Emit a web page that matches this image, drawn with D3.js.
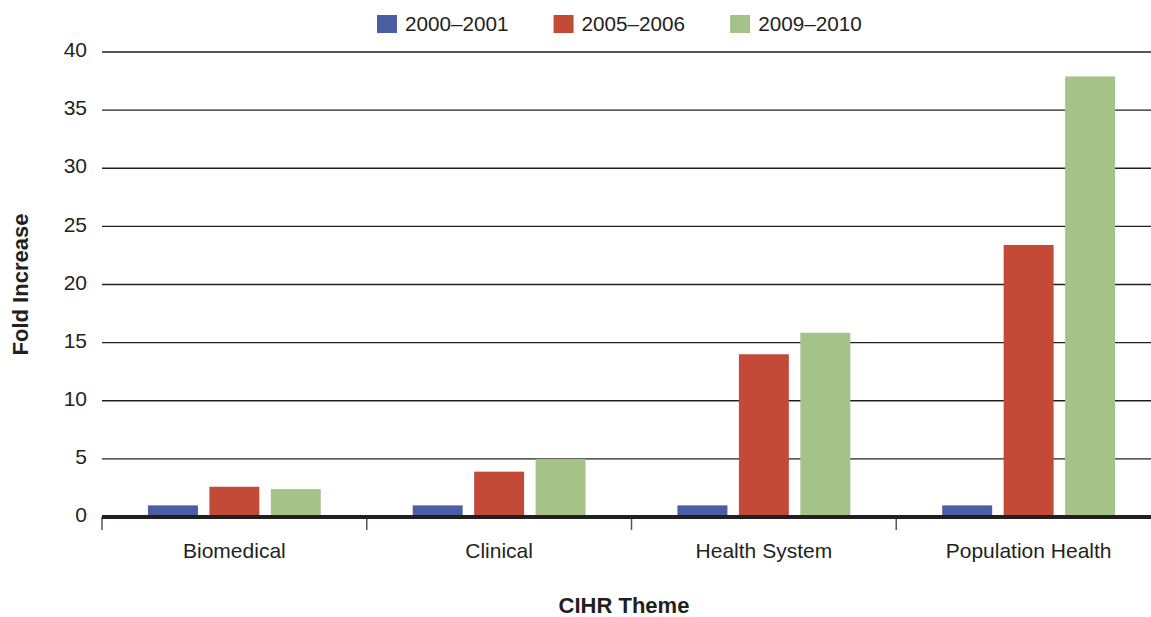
<!DOCTYPE html>
<html>
<head>
<meta charset="utf-8">
<script src="https://cdn.jsdelivr.net/npm/d3@7"></script>
<style>
  html, body { margin: 0; padding: 0; background: #fff; overflow: hidden; }
  svg { display: block; font-family: "Liberation Sans", Arial, Helvetica, sans-serif; }
</style>
</head>
<body>
<svg id="chart" width="1151" height="617"></svg>
<script>
// Fold increase in funding by CIHR theme, relative to 2000–2001
const themes = ["Biomedical", "Clinical", "Health System", "Population Health"];
const periods = ["2000–2001", "2005–2006", "2009–2010"];
const colors = ["#4b5ea3", "#c24a36", "#a5c389"];
const values2000 = [1, 1, 1, 1];
const values2005 = [2.6, 3.9, 14.0, 23.4];
const values2009 = [2.4, 5.0, 15.85, 37.9];
const yTicks = [0, 5, 10, 15, 20, 25, 30, 35, 40];

const seriesValues = [values2000, values2005, values2009];
const rows = themes.map((t, i) => ({
  theme: t,
  vals: periods.map((p, j) => ({ period: p, value: seriesValues[j][i], color: colors[j] }))
}));

const svg = d3.select("#chart");
const textColor = "#231f20";
const plotLeft = 102, plotRight = 1161, plotTop = 52, plotBottom = 517;

const x = d3.scaleBand().domain(themes).range([plotLeft, plotRight]).paddingInner(0).paddingOuter(0);
const xs = d3.scaleBand().domain(periods).range([0, x.bandwidth()]).paddingInner(0.187).paddingOuter(0.748);
const y = d3.scaleLinear().domain([0, 40]).range([plotBottom, plotTop]);

// Horizontal gridlines and y tick labels
const yAxis = d3.axisLeft(y).tickValues(yTicks).tickSize(0).tickPadding(15);
const yg = svg.append("g").attr("transform", `translate(${plotLeft},0)`).call(yAxis);
yg.select(".domain").remove();
yg.selectAll("text")
  .attr("font-size", 21)
  .attr("fill", textColor)
  .attr("dy", "0.22em")
  .attr("font-family", "Liberation Sans, Arial, sans-serif");

svg.append("g").selectAll("line")
  .data(yTicks.filter(d => d > 0))
  .join("line")
  .attr("x1", plotLeft).attr("x2", 1151)
  .attr("y1", d => y(d)).attr("y2", d => y(d))
  .attr("stroke", textColor).attr("stroke-width", 1.3);

// Bars
const groups = svg.append("g").selectAll("g")
  .data(rows).join("g")
  .attr("transform", d => `translate(${x(d.theme)},0)`);
groups.selectAll("rect")
  .data(d => d.vals).join("rect")
  .attr("x", d => xs(d.period))
  .attr("width", xs.bandwidth())
  .attr("y", d => y(d.value))
  .attr("height", d => y(0) - y(d.value))
  .attr("fill", d => d.color);

// Category axis with downward ticks at band edges
const xAxis = d3.axisBottom(x).tickSize(0).tickPadding(26);
const xg = svg.append("g").attr("transform", `translate(0,${plotBottom})`).call(xAxis);
xg.select(".domain").remove();
xg.selectAll("text")
  .attr("font-size", 21)
  .attr("fill", textColor)
  .attr("font-family", "Liberation Sans, Arial, sans-serif");

svg.append("g").selectAll("line")
  .data(themes)
  .join("line")
  .attr("x1", d => x(d)).attr("x2", d => x(d))
  .attr("y1", plotBottom).attr("y2", plotBottom + 13)
  .attr("stroke", "#555").attr("stroke-width", 1.5);

// Baseline
svg.append("line")
  .attr("x1", plotLeft).attr("x2", 1151)
  .attr("y1", y(0)).attr("y2", y(0))
  .attr("stroke", textColor).attr("stroke-width", 4);

// Axis titles
svg.append("text")
  .attr("x", 624).attr("y", 613)
  .attr("text-anchor", "middle")
  .attr("font-size", 22).attr("font-weight", "bold")
  .attr("fill", textColor)
  .text("CIHR Theme");

svg.append("text")
  .attr("transform", `translate(28,${(plotTop + plotBottom) / 2}) rotate(-90)`)
  .attr("text-anchor", "middle")
  .attr("font-size", 22).attr("font-weight", "bold")
  .attr("fill", textColor)
  .text("Fold Increase");

// Legend
const legend = svg.append("g");
let lx = 377;
periods.forEach((p, i) => {
  const item = legend.append("g").attr("transform", `translate(${lx},15)`);
  item.append("rect").attr("width", 20).attr("height", 18).attr("fill", colors[i]);
  const t = item.append("text")
    .attr("x", 28).attr("y", 16)
    .attr("font-size", 20.7)
    .attr("fill", textColor)
    .text(p);
  lx += 28 + t.node().getComputedTextLength() + 45;
});
</script>
</body>
</html>
